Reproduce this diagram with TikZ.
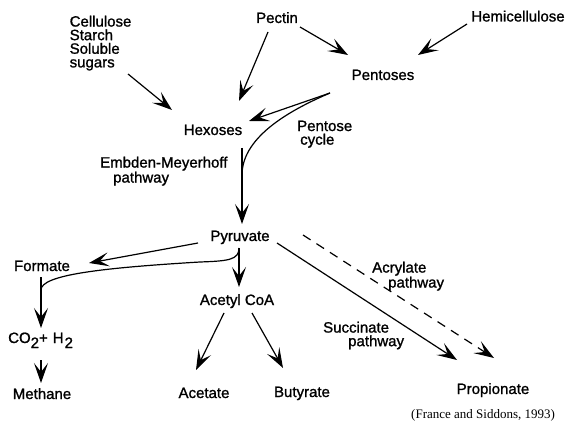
\documentclass[tikz,border=0pt]{standalone}
\usepackage{fontspec}
\setmainfont{Liberation Sans}[BoldFont=Liberation Sans, BoldFeatures={FakeBold=1.2}]
\newfontfamily\citefont{Liberation Serif}
\usetikzlibrary{arrows.meta}
\begin{document}
\begin{tikzpicture}[x=1pt,y=-1pt,
  lbl/.style={font=\fontsize{15}{14}\selectfont\bfseries, inner sep=0pt, anchor=base},
  mlbl/.style={font=\fontsize{15}{13.6}\selectfont\bfseries, inner sep=0pt, align=left, anchor=north west},
  ln/.style={line width=1.2pt},
  arr/.style={line width=1.2pt, -{Stealth[length=20pt,width=14pt,inset=9pt]}}]
\useasboundingbox (0,0) rectangle (570,422);
% labels
\node[mlbl] (cell) at (69.5,15.5) {Cellulose\\Starch\\Soluble\\sugars};
\node[lbl] (pectin) at (277,23) {Pectin};
\node[lbl] (hemi) at (518,21.5) {Hemicellulose};
\node[lbl] (pent) at (383,80) {Pentoses};
\node[lbl] (hex) at (213,135) {Hexoses};
\node[mlbl] (pcyc) at (297,120.5) {Pentose\\\hspace*{3pt}cycle};
\node[mlbl] (emp) at (100,156.5) {Embden-Meyerhoff\\\hspace*{13pt}pathway};
\node[lbl] (pyr) at (240,241) {Pyruvate};
\node[lbl] (form) at (42,271) {Formate};
\node[lbl] (acoa) at (237,305) {Acetyl CoA};
\node[lbl, anchor=base west] (co2) at (8,343) {CO\raisebox{-5pt}{2}+\hspace{5pt}H\raisebox{-5pt}{\hspace{1pt}2}};
\node[lbl] (meth) at (42,399) {Methane};
\node[lbl] (acet) at (204,398) {Acetate};
\node[lbl] (buty) at (302,397) {Butyrate};
\node[lbl] (prop) at (493,394) {Propionate};
\node[mlbl] (acry) at (372,261.5) {Acrylate\\\hspace*{16pt}pathway};
\node[mlbl] (succ) at (323,321.5) {Succinate\\\hspace*{25pt}pathway};
\node[font=\citefont\fontsize{13}{13}\selectfont, inner sep=0pt, anchor=base west] (cite) at (411,418) {(France and Siddons, 1993)};
% connector ends
\coordinate (c1) at (128,74);  \coordinate (h1) at (172,110);
\coordinate (p1) at (268,32);  \coordinate (h2) at (239,101);
\coordinate (p2) at (300,27);  \coordinate (q1) at (348,55);
\coordinate (m1) at (467,24);  \coordinate (q2) at (418,55);
\coordinate (q3) at (330,93);  \coordinate (h3) at (249,121);
\coordinate (h4) at (242,148); \coordinate (y1) at (242,224);
\coordinate (j1) at (242,175);
\coordinate (y2) at (198,243); \coordinate (f1) at (89,263);
\coordinate (f2) at (41,277);  \coordinate (f3) at (41,328);
\coordinate (j2) at (41,290);
\coordinate (y3) at (239,248); \coordinate (a1) at (239,287);
\coordinate (a2) at (224,313); \coordinate (t1) at (196,370);
\coordinate (a3) at (252,313); \coordinate (b1) at (283,368);
\coordinate (o1) at (41,360);  \coordinate (n1) at (41,383);
\coordinate (y4) at (277,243); \coordinate (r1) at (457,360);
\coordinate (y5) at (303,235); \coordinate (r2) at (494,358);
% connectors
\draw[arr] (c1) -- (h1);
\draw[arr] (p1) -- (h2);
\draw[arr] (p2) -- (q1);
\draw[arr] (m1) -- (q2);
\draw[arr] (q3) -- (h3);
\draw[ln] (q3) .. controls (295,108) and (242,135) .. (j1);
\draw[arr] (h4) -- (y1);
\draw[arr] (y2) -- (f1);
\draw[arr] (f2) -- (f3);
\draw[ln] (y3) .. controls (239,260) and (228,261) .. (200,262) .. controls (100,268) and (41,275) .. (j2);
\draw[arr] (y3) -- (a1);
\draw[arr] (a2) -- (t1);
\draw[arr] (a3) -- (b1);
\draw[arr] (o1) -- (n1);
\draw[arr] (y4) -- (r1);
\draw[arr, dash pattern=on 9pt off 7pt] (y5) -- (r2);
\end{tikzpicture}
\end{document}
